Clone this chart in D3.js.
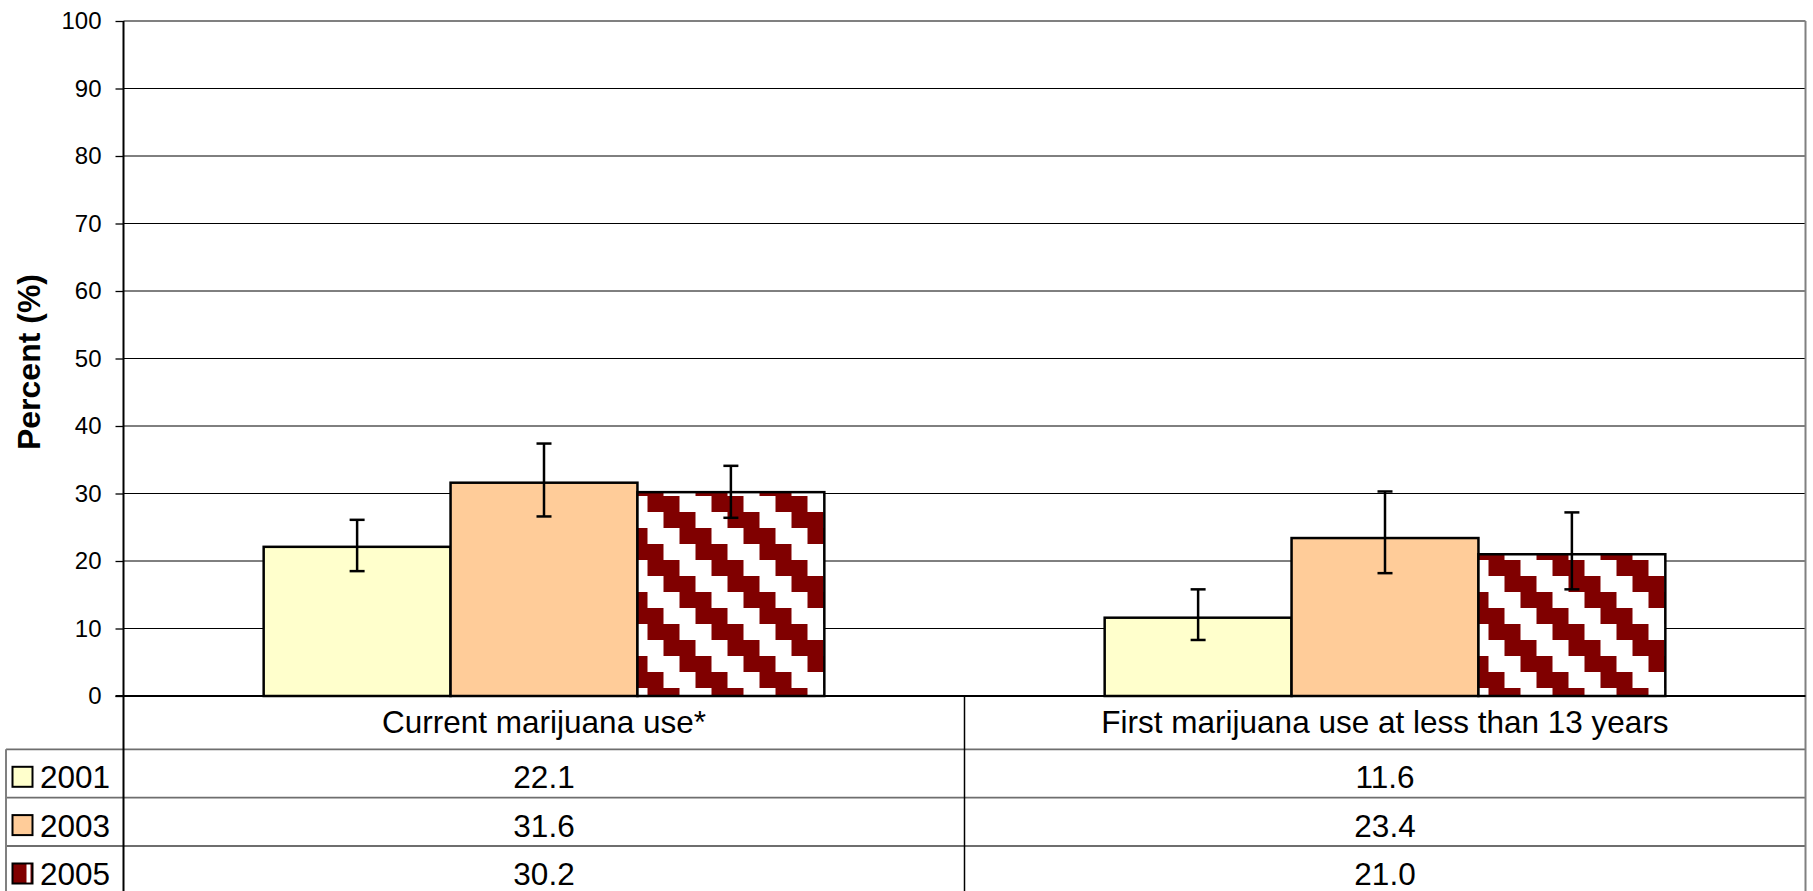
<!DOCTYPE html>
<html>
<head>
<meta charset="utf-8">
<script src="https://cdn.jsdelivr.net/npm/d3@7/dist/d3.min.js"></script>
<style>
  html, body { margin: 0; padding: 0; background: #fff; }
  svg { display: block; font-family: Arial, "Liberation Sans", sans-serif; }
</style>
</head>
<body>
<svg id="chart" width="1813" height="891"></svg>
<script>
// ---------- data ----------
const categories = ["Current marijuana use*", "First marijuana use at less than 13 years"];
const years = ["2001", "2003", "2005"];
const values2001 = [22.1, 11.6];
const values2003 = [31.6, 23.4];
const values2005 = [30.2, 21.0];
const lower2001 = [18.5, 8.3];
const upper2001 = [26.1, 15.8];
const lower2003 = [26.6, 18.2];
const upper2003 = [37.4, 30.3];
const lower2005 = [26.4, 15.8];
const upper2005 = [34.1, 27.2];
const yTicks = [0, 10, 20, 30, 40, 50, 60, 70, 80, 90, 100];
const yTitle = "Percent (%)";

const seriesValues = [values2001, values2003, values2005];
const seriesLower = [lower2001, lower2003, lower2005];
const seriesUpper = [upper2001, upper2003, upper2005];

// ---------- layout ----------
const W = 1813, H = 891;
const plotL = 123.5, plotR = 1805.5, plotT = 21, plotB = 696;
const tableRows = [749.3, 797.6, 846, 894.4];
const tableLeft = 6;

const svg = d3.select("#chart");

const y = d3.scaleLinear().domain([0, 100]).range([plotB, plotT]);
const x0 = d3.scaleBand().domain(categories).range([plotL, plotR]).padding(0);
const x1 = d3.scaleBand().domain(years).range([0, x0.bandwidth()])
  .paddingInner(0).paddingOuter(0.75);

// pattern for 2005
const defs = svg.append("defs");
const pat = defs.append("pattern")
  .attr("id", "stairs")
  .attr("patternUnits", "userSpaceOnUse")
  .attr("width", 64).attr("height", 64)
  .attr("x", 28).attr("y", 0);
pat.append("rect").attr("width", 64).attr("height", 64).attr("fill", "#fff");
[0, 1, 2, 3].forEach(k => {
  const sx = 16 * k;
  pat.append("rect").attr("x", sx).attr("y", 16 * k).attr("width", 32).attr("height", 16).attr("fill", "#800000");
  if (sx + 32 > 64) {
    pat.append("rect").attr("x", sx - 64).attr("y", 16 * k).attr("width", 32).attr("height", 16).attr("fill", "#800000");
  }
});

const fills = ["#FFFFCC", "#FFCC99", "url(#stairs)"];

// gridlines
svg.append("g").selectAll("line")
  .data(yTicks.filter(t => t > 0 && t < 100))
  .join("line")
  .attr("x1", plotL).attr("x2", plotR)
  .attr("y1", d => y(d)).attr("y2", d => y(d))
  .attr("stroke", "#000").attr("stroke-width", 1);

// plot border top (gray)
svg.append("line").attr("x1", plotL).attr("x2", plotR).attr("y1", y(100)).attr("y2", y(100))
  .attr("stroke", "#808080").attr("stroke-width", 2);

// y axis
const yAxis = d3.axisLeft(y).tickValues(yTicks).tickSize(8).tickPadding(14);
const gy = svg.append("g").attr("transform", `translate(${plotL},0)`).call(yAxis);
gy.select(".domain").remove();
gy.selectAll(".tick line").attr("stroke", "#000").attr("stroke-width", 1.3);
gy.selectAll(".tick text").attr("font-size", 24).attr("fill", "#000")
  .attr("font-family", "Arial, 'Liberation Sans', sans-serif");

// bars
const groups = svg.append("g").selectAll("g")
  .data(categories)
  .join("g")
  .attr("transform", d => `translate(${x0(d)},0)`);

groups.each(function (cat, ci) {
  const g = d3.select(this);
  years.forEach((yr, si) => {
    const v = seriesValues[si][ci];
    g.append("rect")
      .attr("x", x1(yr)).attr("width", x1.bandwidth())
      .attr("y", y(v)).attr("height", y(0) - y(v))
      .attr("fill", fills[si])
      .attr("stroke", "#000").attr("stroke-width", 2.5);
  });
});

// error bars
groups.each(function (cat, ci) {
  const g = d3.select(this);
  years.forEach((yr, si) => {
    const cx = x1(yr) + x1.bandwidth() / 2;
    const lo = seriesLower[si][ci], hi = seriesUpper[si][ci];
    g.append("line").attr("x1", cx).attr("x2", cx).attr("y1", y(hi)).attr("y2", y(lo))
      .attr("stroke", "#000").attr("stroke-width", 2.5);
    [lo, hi].forEach(v => {
      g.append("line").attr("x1", cx - 7.5).attr("x2", cx + 7.5).attr("y1", y(v)).attr("y2", y(v))
        .attr("stroke", "#000").attr("stroke-width", 2.5);
    });
  });
});

// y axis title
svg.append("text")
  .attr("transform", `translate(40,362) rotate(-90)`)
  .attr("text-anchor", "middle")
  .attr("font-size", 32).attr("font-weight", "bold")
  .text(yTitle);

// ---------- data table ----------
const tbl = svg.append("g");
tableRows.slice(0, 3).forEach(ry => {
  tbl.append("line").attr("x1", tableLeft).attr("x2", plotR).attr("y1", ry).attr("y2", ry)
    .attr("stroke", "#6e6e6e").attr("stroke-width", 1.8);
});
tbl.append("line").attr("x1", tableLeft).attr("x2", tableLeft).attr("y1", tableRows[0]).attr("y2", H)
  .attr("stroke", "#808080").attr("stroke-width", 2);
svg.append("line").attr("x1", plotR).attr("x2", plotR).attr("y1", plotT).attr("y2", H)
  .attr("stroke", "#808080").attr("stroke-width", 2);
tbl.append("line").attr("x1", x0(categories[1])).attr("x2", x0(categories[1]))
  .attr("y1", plotB).attr("y2", H).attr("stroke", "#000").attr("stroke-width", 1.5);
svg.append("line").attr("x1", plotL).attr("x2", plotL).attr("y1", plotT).attr("y2", H)
  .attr("stroke", "#000").attr("stroke-width", 2);
svg.append("line").attr("x1", plotL - 8).attr("x2", plotR).attr("y1", y(0)).attr("y2", y(0))
  .attr("stroke", "#000").attr("stroke-width", 2);

// category labels
tbl.selectAll("text.cat").data(categories).join("text")
  .attr("class", "cat")
  .attr("x", d => x0(d) + x0.bandwidth() / 2)
  .attr("y", 733)
  .attr("text-anchor", "middle")
  .attr("font-size", 31.5)
  .text(d => d);

// rows
years.forEach((yr, si) => {
  const top = tableRows[si];
  const base = top + 39;
  const kx = 12.5, ky = top + 17.5, ks = 20;
  if (si < 2) {
    tbl.append("rect").attr("x", kx).attr("y", ky).attr("width", ks).attr("height", ks)
      .attr("fill", fills[si]).attr("stroke", "#000").attr("stroke-width", 2);
  } else {
    tbl.append("rect").attr("x", kx).attr("y", ky).attr("width", ks).attr("height", ks)
      .attr("fill", "#800000").attr("stroke", "#000").attr("stroke-width", 2);
    tbl.append("rect").attr("x", kx + 14).attr("y", ky + 1).attr("width", 4).attr("height", ks - 2)
      .attr("fill", "#fff");
  }
  tbl.append("text").attr("x", 40).attr("y", base).attr("font-size", 31.5).text(yr);
  categories.forEach((cat, ci) => {
    tbl.append("text")
      .attr("x", x0(cat) + x0.bandwidth() / 2)
      .attr("y", base)
      .attr("text-anchor", "middle")
      .attr("font-size", 31.5)
      .text(seriesValues[si][ci].toFixed(1));
  });
});
</script>
</body>
</html>
